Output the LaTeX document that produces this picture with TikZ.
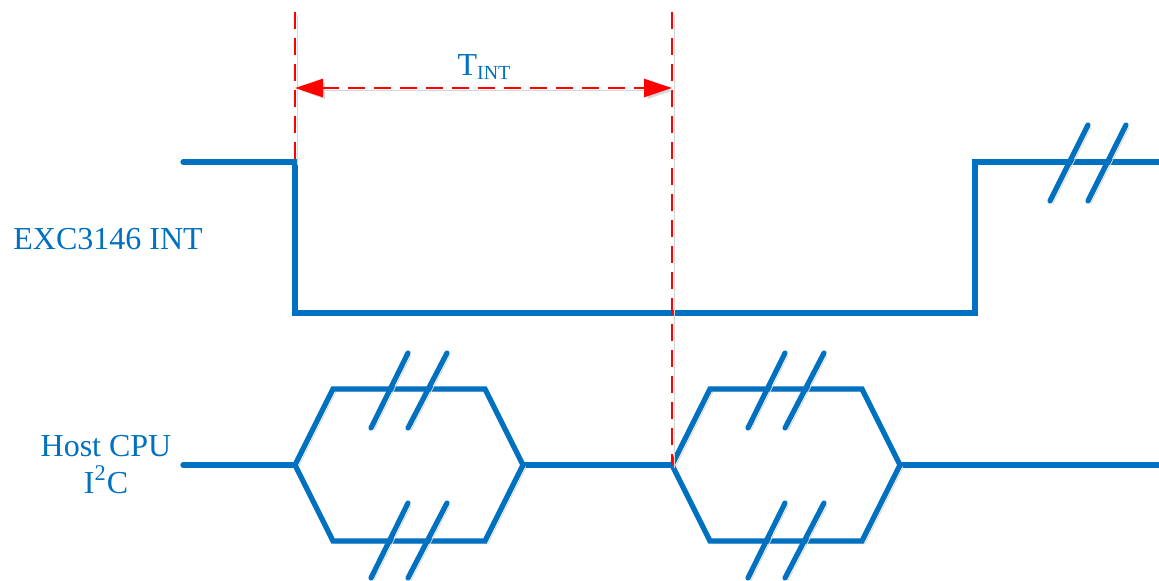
\documentclass[tikz,border=0pt]{standalone}
\usepackage{fontspec}
\setmainfont{Liberation Serif}
\usetikzlibrary{arrows.meta}
\definecolor{sigblue}{HTML}{0070C0}
\definecolor{shade}{HTML}{D6D6D6}

\begin{document}
\begin{tikzpicture}[x=0.5pt,y=-0.5pt,
  shadowed/.style={preaction={draw=shade, transform canvas={xshift=1.4pt,yshift=-1.4pt}}},
  signal/.style={draw=sigblue, line width=2.6pt, line cap=round, line join=miter, shadowed},
  marker/.style={draw=red, line width=1.3pt, dash pattern=on 8.5pt off 4.5pt, shadowed},
  lbl/.style={text=sigblue, font=\fontsize{16}{18}\selectfont, inner sep=0pt}
]
\useasboundingbox (0,0) rectangle (1159,580);

% ---- interrupt line ----
\coordinate (intA) at (183,162);
\coordinate (intFall) at (295,162);
\coordinate (intLow) at (295,313);
\coordinate (intRiseLow) at (975,313);
\coordinate (intRise) at (975,162);
\coordinate (intEnd) at (1165,162);
\draw[signal] (intA) -- (intFall) -- (intLow) -- (intRiseLow) -- (intRise) -- (intEnd);
% break marks on the interrupt line
\draw[signal] (1050,201) -- (1088,125);
\draw[signal] (1088,201) -- (1126,125);

% ---- I2C bus ----
\coordinate (busA) at (183,465);
\coordinate (hexAL) at (295,465);
\coordinate (hexAR) at (523,465);
\coordinate (hexBL) at (672,465);
\coordinate (hexBR) at (900,465);
\coordinate (busEnd) at (1165,465);
\draw[signal] (busA) -- (hexAL);
\draw[signal] (hexAR) -- (hexBL);
\draw[signal] (hexBR) -- (busEnd);

% two transfer frames, each with break marks above and below
\foreach \dx in {0,377}{
  \begin{scope}[xshift=\dx*0.5pt]
    \draw[signal] (295,465) -- (333,389) -- (485,389) -- (523,465)
                  -- (485,541) -- (333,541) -- cycle;
    \draw[signal] (371,428) -- (408,353);
    \draw[signal] (408,428) -- (447,353);
    \draw[signal] (371,578) -- (408,503);
    \draw[signal] (408,578) -- (447,503);
  \end{scope}
}

% ---- timing markers ----
\coordinate (mkLtop) at (295,12);
\coordinate (mkRtop) at (672,12);
\coordinate (arrL) at (295,88);
\coordinate (arrR) at (672,88);
\draw[marker] (mkLtop) -- (intFall);
\draw[marker] (mkRtop) -- (hexBL);
\draw[marker, {Triangle[length=14pt,width=9pt]}-{Triangle[length=14pt,width=9pt]}] (arrL) -- (arrR);

% ---- labels ----
\node[lbl, anchor=base] (tint) at (484,75) {T\raisebox{-2pt}{\fontsize{10}{10}\selectfont INT}};
\node[lbl, anchor=base west] (intlbl) at (13,249) {EXC3146 INT};
\node[lbl, anchor=base] (hostlbl) at (106,456) {Host CPU};
\node[lbl, anchor=base] (i2clbl) at (106,493) {I\textsuperscript{2}C};
\end{tikzpicture}
\end{document}
